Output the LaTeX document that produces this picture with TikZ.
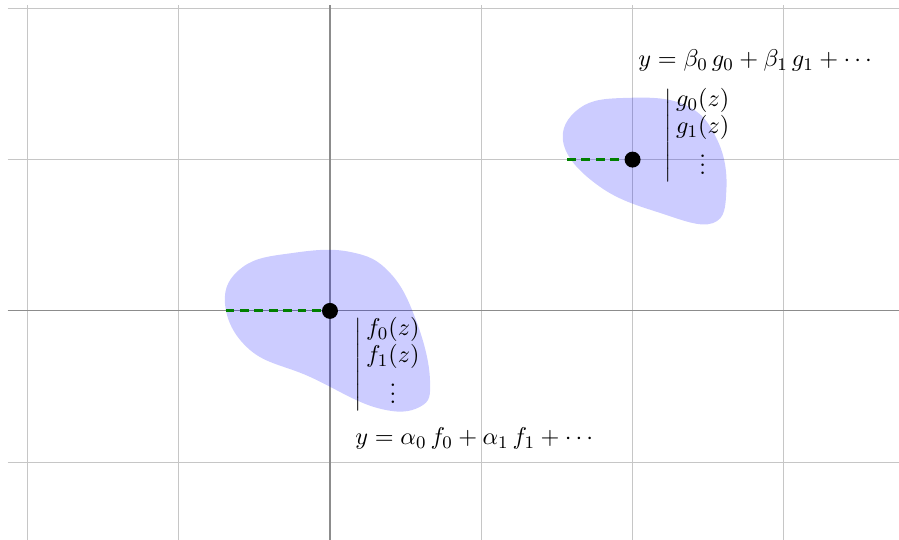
\documentclass[tikz,border=0pt]{standalone}
\begin{document}
\begin{tikzpicture}[x=2.4cm,y=2.4cm,
  gridline/.style={draw=gray!45, line width=0.5pt},
  axisline/.style={draw=gray!90, line width=0.5pt},
  blob/.style={fill=blue, fill opacity=0.2},
  greendash/.style={draw=green!50!black, line width=1.3pt, dash pattern=on 4pt off 2.5pt},
  dotnode/.style={circle, fill=black, inner sep=0pt, minimum size=7.2pt},
  lbl/.style={inner sep=0pt, font=\fontsize{10.8pt}{13pt}\selectfont}]
\useasboundingbox (-2.181,-1.514) rectangle (3.761,2.055);
\draw[gridline, step={(1,1)}] (-2.13,-1.52) grid (3.77,2.02);
\draw[axisline] (-2.13,0) -- (3.77,0) (0,-1.52) -- (0,2.02);
% blobs
\fill[blob] plot[smooth cycle, tension=0.7] coordinates {(-0.694,0.05) (-0.575,0.291) (-0.245,0.383) (0.132,0.390) (0.397,0.251) (0.575,-0.079) (0.661,-0.456) (0.595,-0.634) (0.311,-0.641) (-0.132,-0.436) (-0.529,-0.258)};
\fill[blob] plot[smooth cycle, tension=0.7] coordinates {(1.545,1.10) (1.65,1.34) (1.963,1.408) (2.35,1.36) (2.56,1.13) (2.62,0.80) (2.53,0.58) (2.181,0.648) (1.785,0.820)};
% dashed lines and dots
\coordinate (c1) at (0,0);
\coordinate (d1) at (-0.69,0);
\coordinate (c2) at (2,1);
\coordinate (d2) at (1.567,1);
\draw[greendash] (d1) -- (c1);
\draw[greendash] (d2) -- (c2);
\node[dotnode] (p1) at (c1) {};
\node[dotnode] (p2) at (c2) {};
% labels
\node[lbl, anchor=north west] (m1) at (0.16,-0.04) {\renewcommand{\arraystretch}{0.92}$\left|\begin{array}{@{\,}c@{}} f_0(z)\\ f_1(z)\\ \vdots \end{array}\right.$};
\node[lbl, anchor=base west] (e1) at (0.165,-0.886) {$y = \alpha_0\, f_0 + \alpha_1\, f_1 + \cdots$};
\node[lbl, anchor=north west] (m2) at (2.209,1.474) {\renewcommand{\arraystretch}{0.92}$\left|\begin{array}{@{\,}c@{}} g_0(z)\\ g_1(z)\\ \vdots \end{array}\right.$};
\node[lbl, anchor=base west] (e2) at (2.036,1.613) {$y = \beta_0\, g_0 + \beta_1\, g_1 + \cdots$};
\end{tikzpicture}
\end{document}
